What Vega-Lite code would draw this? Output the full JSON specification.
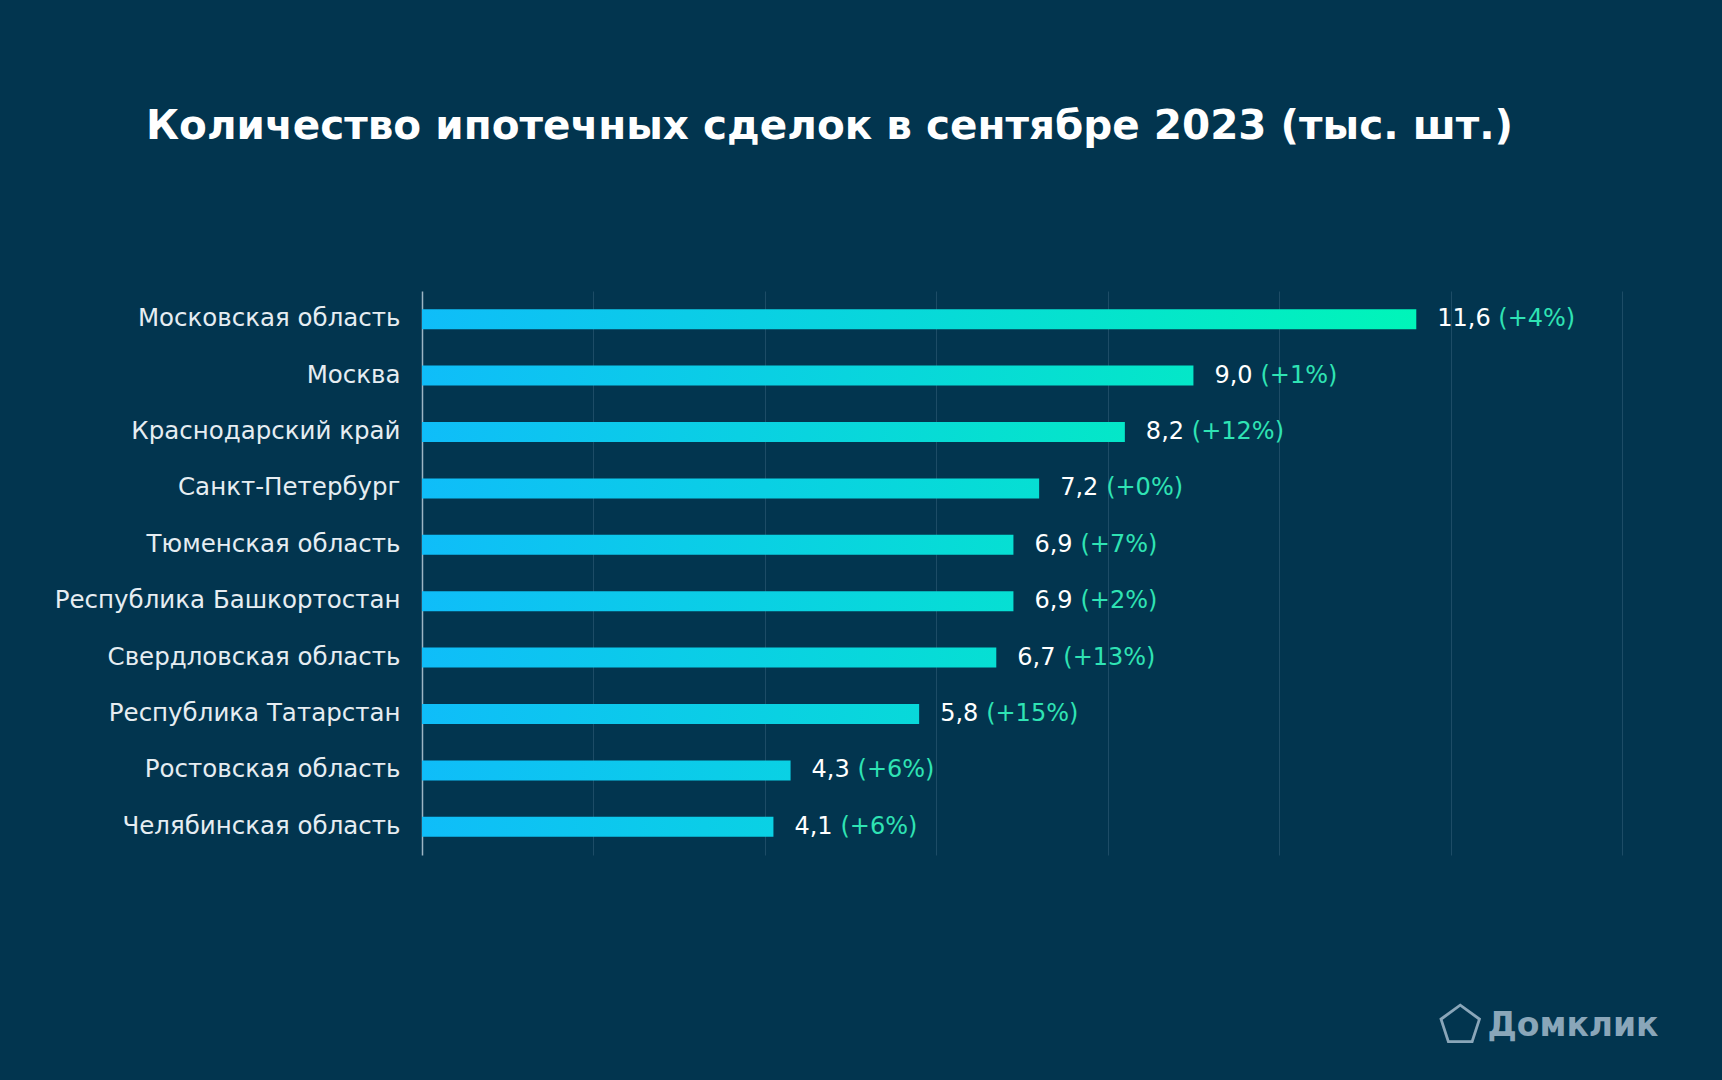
{
  "$schema": "https://vega.github.io/schema/vega-lite/v6.json",
  "autosize": {"type": "none"},
  "width": 1200,
  "height": 564,
  "padding": {"left": 422, "top": 291, "right": 100, "bottom": 225},
  "background": "#02354f",
  "title": {
    "text": "Количество ипотечных сделок в сентябре 2023 (тыс. шт.)",
    "anchor": "start",
    "frame": "group",
    "dx": -276,
    "offset": 144,
    "font": "DejaVu Sans",
    "fontSize": 40.5,
    "fontWeight": 700,
    "color": "#ffffff"
  },
  "config": {
    "view": {"stroke": null},
    "font": "DejaVu Sans"
  },
  "data": {
    "values": [
      {"region": "Московская область", "value": 11.6, "val": "11,6", "chg": "(+4%)"},
      {"region": "Москва", "value": 9.0, "val": "9,0", "chg": "(+1%)"},
      {"region": "Краснодарский край", "value": 8.2, "val": "8,2", "chg": "(+12%)"},
      {"region": "Санкт-Петербург", "value": 7.2, "val": "7,2", "chg": "(+0%)"},
      {"region": "Тюменская область", "value": 6.9, "val": "6,9", "chg": "(+7%)"},
      {"region": "Республика Башкортостан", "value": 6.9, "val": "6,9", "chg": "(+2%)"},
      {"region": "Свердловская область", "value": 6.7, "val": "6,7", "chg": "(+13%)"},
      {"region": "Республика Татарстан", "value": 5.8, "val": "5,8", "chg": "(+15%)"},
      {"region": "Ростовская область", "value": 4.3, "val": "4,3", "chg": "(+6%)"},
      {"region": "Челябинская область", "value": 4.1, "val": "4,1", "chg": "(+6%)"}
    ]
  },
  "encoding": {
    "y": {
      "field": "region",
      "type": "nominal",
      "sort": null,
      "scale": {"paddingInner": 0, "paddingOuter": 0},
      "axis": {
        "title": "⬠",
        "titleFont": "DejaVu Sans",
        "titleFontSize": 50,
        "titleFontWeight": 700,
        "titleColor": "#8aa6b9",
        "titleAngle": 0,
        "titleAlign": "left",
        "titleBaseline": "alphabetic",
        "titleX": 1016,
        "titleY": 750,
        "labelFont": "DejaVu Sans",
        "labelFontSize": 24.5,
        "labelColor": "#e6edf2",
        "labelPadding": 22,
        "labelLimit": 0,
        "ticks": false,
        "domainColor": "#9db5c4",
        "domainWidth": 1.5,
        "grid": false
      }
    },
    "x": {
      "field": "value",
      "type": "quantitative",
      "scale": {"domain": [0, 14], "nice": false},
      "axis": {
        "values": [2, 4, 6, 8, 10, 12, 14],
        "labels": false,
        "ticks": false,
        "domain": false,
        "grid": true,
        "gridColor": "#1d4c66",
        "gridWidth": 1,
        "title": "Домклик",
        "titleFont": "DejaVu Sans",
        "titleFontSize": 33,
        "titleFontWeight": 700,
        "titleColor": "#8aa6b9",
        "titleAnchor": "end",
        "titleAlign": "right",
        "titleBaseline": "alphabetic",
        "titleX": 1236,
        "titleY": 180
      }
    }
  },
  "layer": [
    {
      "transform": [{"filter": {"field": "value", "range": [11, 13]}}],
      "mark": {"type": "bar", "size": 20, "color": {"gradient": "linear", "x1": 0, "x2": 1, "y1": 0, "y2": 0, "stops": [{"offset": 0, "color": "#0fbdf9"}, {"offset": 1, "color": "#00f5b9"}]}}
    },
    {
      "transform": [{"filter": {"field": "value", "range": [8, 10]}}],
      "mark": {"type": "bar", "size": 20, "color": {"gradient": "linear", "x1": 0, "x2": 1, "y1": 0, "y2": 0, "stops": [{"offset": 0, "color": "#0fbdf9"}, {"offset": 1, "color": "#04e7c8"}]}}
    },
    {
      "transform": [{"filter": {"field": "value", "range": [6.5, 7.9]}}],
      "mark": {"type": "bar", "size": 20, "color": {"gradient": "linear", "x1": 0, "x2": 1, "y1": 0, "y2": 0, "stops": [{"offset": 0, "color": "#0fbdf9"}, {"offset": 1, "color": "#06dfd3"}]}}
    },
    {
      "transform": [{"filter": {"field": "value", "range": [5, 6.4]}}],
      "mark": {"type": "bar", "size": 20, "color": {"gradient": "linear", "x1": 0, "x2": 1, "y1": 0, "y2": 0, "stops": [{"offset": 0, "color": "#0fbdf9"}, {"offset": 1, "color": "#08d9d9"}]}}
    },
    {
      "transform": [{"filter": {"field": "value", "range": [0, 4.9]}}],
      "mark": {"type": "bar", "size": 20, "color": {"gradient": "linear", "x1": 0, "x2": 1, "y1": 0, "y2": 0, "stops": [{"offset": 0, "color": "#0fbdf9"}, {"offset": 1, "color": "#0ad1e4"}]}}
    },
    {
      "mark": {"type": "text", "align": "left", "baseline": "middle", "dx": 21, "fontSize": 24, "font": "DejaVu Sans", "color": "#ffffff"},
      "encoding": {"text": {"field": "val"}}
    },
    {
      "transform": [{"filter": {"field": "value", "range": [0, 10]}}],
      "mark": {"type": "text", "align": "left", "baseline": "middle", "dx": 67, "fontSize": 24, "font": "DejaVu Sans", "color": "#2fe3b4"},
      "encoding": {"text": {"field": "chg"}}
    },
    {
      "transform": [{"filter": {"field": "value", "range": [10, 14]}}],
      "mark": {"type": "text", "align": "left", "baseline": "middle", "dx": 82, "fontSize": 24, "font": "DejaVu Sans", "color": "#2fe3b4"},
      "encoding": {"text": {"field": "chg"}}
    }
  ]
}
